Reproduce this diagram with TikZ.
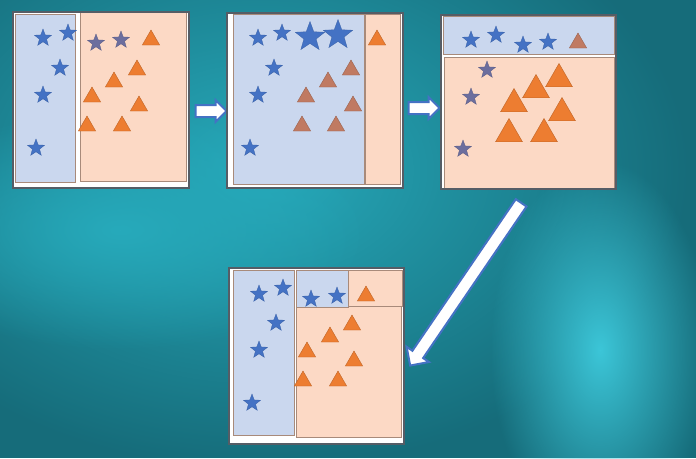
\documentclass[tikz,border=0pt]{standalone}
\usetikzlibrary{shapes.geometric,shapes.arrows,fadings}

\definecolor{bgdark}{HTML}{166C7A}
\definecolor{bgmid}{HTML}{27AABB}
\definecolor{bglight}{HTML}{3CC6D8}
\definecolor{framegray}{HTML}{555D66}
\definecolor{boxedge}{HTML}{A88A7A}
\definecolor{bluefill}{HTML}{CAD7EE}
\definecolor{orangefill}{HTML}{FCD9C5}
\definecolor{starblue}{HTML}{4472C4}
\definecolor{stargray}{HTML}{6C6E9E}
\definecolor{triorange}{HTML}{ED7D31}
\definecolor{tribrown}{HTML}{C07A62}

\tikzfading[name=glow, inner color=transparent!0, outer color=transparent!100]

\tikzset{
	panel/.style={fill=white},
	frameline/.style={draw=framegray, line width=2.8pt},
	bluebox/.style={draw=boxedge, line width=0.8pt, fill=bluefill},
	orangebox/.style={draw=boxedge, line width=0.8pt, fill=orangefill},
	bstar/.style={star, star points=5, star point ratio=2.4, inner sep=0pt, minimum size=18pt, fill=starblue, draw=starblue!85!black, line width=0.3pt},
	gstar/.style={bstar, fill=stargray, draw=stargray!85!black},
	bigstar/.style={bstar, minimum size=31pt},
	otri/.style={regular polygon, regular polygon sides=3, inner sep=0pt, minimum size=20pt, fill=triorange, draw=triorange!80!black, line width=0.4pt},
	btri/.style={otri, fill=tribrown, draw=tribrown!80!black},
	bigtri/.style={otri, minimum size=31pt},
	blockarrow/.style={single arrow, draw=starblue, line width=2pt, fill=white, inner xsep=0pt, inner ysep=5pt, single arrow head extend=5pt}
}

\begin{document}
\begin{tikzpicture}[x=1pt, y=-1pt]
	\useasboundingbox (0,0) rectangle (696,458);
	% background
	\fill[bgdark] (0,0) rectangle (696,458);
	\fill[bgmid, path fading=glow] (260,170) ellipse (430 and 300);
	\fill[bgmid, path fading=glow] (120,230) ellipse (250 and 120);
	\fill[bglight, path fading=glow] (600,350) ellipse (110 and 190);
	
	% panel 1
	\fill[panel] (13,12) rectangle (189,188);
	\draw[bluebox] (15,14) rectangle (75,182);
	\draw[orangebox] (80,11) rectangle (186,181);
	\draw[frameline] (13,12) rectangle (189,188);
	\node[bstar] (s11) at (43,38) {};
	\node[bstar] (s12) at (68,33) {};
	\node[bstar] (s13) at (60,68) {};
	\node[bstar] (s14) at (43,95) {};
	\node[bstar] (s15) at (36,148) {};
	\node[gstar] (s16) at (96,43) {};
	\node[gstar] (s17) at (121,40) {};
	\node[otri] (t11) at (151,40) {};
	\node[otri] (t12) at (137,70) {};
	\node[otri] (t13) at (114,82) {};
	\node[otri] (t14) at (92,97) {};
	\node[otri] (t15) at (139,106) {};
	\node[otri] (t16) at (87,126) {};
	\node[otri] (t17) at (122,126) {};
	
	\node[blockarrow, minimum height=31pt] (a1) at (208,111) {};
	
	% panel 2
	\fill[panel] (227,13) rectangle (403,188);
	\draw[bluebox] (233,14) rectangle (364,184);
	\draw[orangebox] (365,14) rectangle (400,184);
	\draw[frameline] (227,13) rectangle (403,188);
	\node[bstar] (s21) at (258,38) {};
	\node[bstar] (s22) at (282,33) {};
	\node[bigstar] (s23) at (310,37) {};
	\node[bigstar] (s24) at (338,35) {};
	\node[bstar] (s25) at (274,68) {};
	\node[bstar] (s26) at (258,95) {};
	\node[bstar] (s27) at (250,148) {};
	\node[otri] (t21) at (377,40) {};
	\node[btri] (t22) at (351,70) {};
	\node[btri] (t23) at (328,82) {};
	\node[btri] (t24) at (306,97) {};
	\node[btri] (t25) at (353,106) {};
	\node[btri] (t26) at (302,126) {};
	\node[btri] (t27) at (336,126) {};
	
	\node[blockarrow, minimum height=31pt] (a2) at (421,108) {};
	
	% panel 3
	\fill[panel] (441,15) rectangle (616,189);
	\draw[bluebox] (443,16) rectangle (614,54);
	\draw[orangebox] (444,57) rectangle (614,188);
	\draw[frameline] (441,15) rectangle (616,189);
	\node[bstar] (s31) at (471,40) {};
	\node[bstar] (s32) at (496,35) {};
	\node[bstar] (s33) at (523,45) {};
	\node[bstar] (s34) at (548,42) {};
	\node[btri] (t31) at (578,43) {};
	\node[gstar] (s35) at (487,70) {};
	\node[gstar] (s36) at (471,97) {};
	\node[gstar] (s37) at (463,149) {};
	\node[bigtri] (t32) at (559,79) {};
	\node[bigtri] (t33) at (536,90) {};
	\node[bigtri] (t34) at (514,104) {};
	\node[bigtri] (t35) at (562,113) {};
	\node[bigtri] (t36) at (509,134) {};
	\node[bigtri] (t37) at (544,134) {};
	
	\node[blockarrow, minimum height=197pt, inner ysep=5.5pt, single arrow head extend=7pt, rotate=235.7] (a3) at (467.5,281.5) {};
	
	% panel 4
	\fill[panel] (229,268) rectangle (404,444);
	\draw[bluebox] (233,270) rectangle (294,435);
	\draw[orangebox] (296,306) rectangle (401,437);
	\draw[bluebox] (296,270) rectangle (348,307);
	\draw[orangebox] (348,270) rectangle (402,306);
	\draw[frameline] (229,268) rectangle (404,444);
	\node[bstar] (s41) at (259,294) {};
	\node[bstar] (s42) at (283,288) {};
	\node[bstar] (s43) at (276,323) {};
	\node[bstar] (s44) at (259,350) {};
	\node[bstar] (s45) at (252,403) {};
	\node[bstar] (s46) at (311,299) {};
	\node[bstar] (s47) at (337,296) {};
	\node[otri] (t41) at (366,296) {};
	\node[otri] (t42) at (352,325) {};
	\node[otri] (t43) at (330,337) {};
	\node[otri] (t44) at (307,352) {};
	\node[otri] (t45) at (354,361) {};
	\node[otri] (t46) at (303,381) {};
	\node[otri] (t47) at (338,381) {};
\end{tikzpicture}
\end{document}
